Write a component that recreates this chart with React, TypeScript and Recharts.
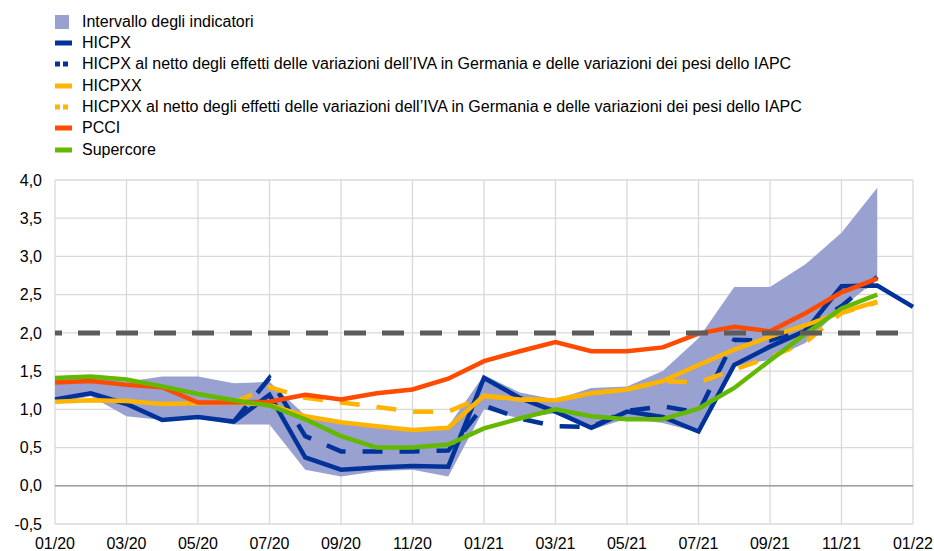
import React from 'react';
import { ComposedChart, Area, Line, XAxis, YAxis, CartesianGrid, ReferenceLine } from 'recharts';

const months = [
  '01/20', '02/20', '03/20', '04/20', '05/20', '06/20', '07/20', '08/20', '09/20', '10/20', '11/20', '12/20',
  '01/21', '02/21', '03/21', '04/21', '05/21', '06/21', '07/21', '08/21', '09/21', '10/21', '11/21', '12/21',
  '01/22',
];
const xTicks = [0, 2, 4, 6, 8, 10, 12, 14, 16, 18, 20, 22, 24];
const yTicks = [-0.5, 0, 0.5, 1, 1.5, 2, 2.5, 3, 3.5, 4];

const bandLow = [1.08, 1.17, 0.91, 0.86, 0.88, 0.80, 0.80, 0.21, 0.12, 0.19, 0.21, 0.12, 1.00, 0.88, 0.95, 0.73, 0.88, 0.82, 0.70, 1.56, 1.65, 1.87, 2.33, 2.70, null];
const bandHigh = [1.38, 1.42, 1.36, 1.43, 1.43, 1.34, 1.36, 0.92, 0.84, 0.79, 0.75, 0.78, 1.45, 1.22, 1.13, 1.28, 1.30, 1.50, 1.93, 2.60, 2.60, 2.90, 3.31, 3.90, null];
const hicpx = [1.13, 1.21, 1.07, 0.86, 0.90, 0.84, 1.19, 0.37, 0.21, 0.24, 0.26, 0.25, 1.41, 1.15, 0.97, 0.76, 0.97, 0.90, 0.71, 1.58, 1.82, 2.03, 2.61, 2.62, 2.34];
const hicpxNet = [null, null, null, null, null, 0.84, 1.41, 0.65, 0.45, 0.45, 0.45, 0.46, 1.05, 0.88, 0.78, 0.77, 0.98, 1.04, 0.96, 1.91, 1.90, 2.05, 2.35, 2.73, null];
const hicpxx = [1.10, 1.12, 1.11, 1.07, 1.08, 1.09, 1.06, 0.91, 0.83, 0.78, 0.73, 0.76, 1.18, 1.13, 1.12, 1.21, 1.26, 1.37, 1.58, 1.78, 1.95, 2.10, 2.27, 2.41, null];
const hicpxxNet = [null, null, null, null, null, 1.09, 1.29, 1.15, 1.09, 1.03, 0.97, 0.97, 1.17, 1.13, 1.12, 1.21, 1.26, 1.37, 1.35, 1.52, 1.68, 1.88, 2.26, 2.40, null];
const pcci = [1.35, 1.37, 1.32, 1.29, 1.09, 1.09, 1.10, 1.19, 1.13, 1.21, 1.26, 1.40, 1.63, 1.76, 1.88, 1.76, 1.76, 1.81, 1.99, 2.08, 2.02, 2.26, 2.53, 2.71, null];
const supercore = [1.41, 1.43, 1.39, 1.30, 1.20, 1.12, 1.05, 0.87, 0.65, 0.50, 0.50, 0.54, 0.75, 0.88, 1.00, 0.91, 0.87, 0.87, 1.01, 1.28, 1.64, 1.99, 2.32, 2.50, null];

const BAND = '#98a1d0';
const BLUE = '#003299';
const YELLOW = '#ffb400';
const RED = '#ff4b00';
const GREEN = '#65b800';
const GREY = '#5c5c5c';
const FONT = '"Liberation Sans", Arial, sans-serif';

const chartData = months.map((m, i) => ({
  i,
  band: bandLow[i] == null ? null : [bandLow[i], bandHigh[i]],
  hicpx: hicpx[i],
  hicpxNet: hicpxNet[i],
  hicpxx: hicpxx[i],
  hicpxxNet: hicpxxNet[i],
  pcci: pcci[i],
  supercore: supercore[i],
}));

const legendItems = [
  { label: 'Intervallo degli indicatori', color: BAND, kind: 'box' },
  { label: 'HICPX', color: BLUE, kind: 'line' },
  { label: 'HICPX al netto degli effetti delle variazioni dell’IVA in Germania e delle variazioni dei pesi dello IAPC', color: BLUE, kind: 'dash' },
  { label: 'HICPXX', color: YELLOW, kind: 'line' },
  { label: 'HICPXX al netto degli effetti delle variazioni dell’IVA in Germania e delle variazioni dei pesi dello IAPC', color: YELLOW, kind: 'dash' },
  { label: 'PCCI', color: RED, kind: 'line' },
  { label: 'Supercore', color: GREEN, kind: 'line' },
];

const fmtY = (v: number) => v.toFixed(1).replace('.', ',');

const ChartLegend = () => (
  <div style={{ position: 'absolute', left: 0, top: 0, fontFamily: FONT, fontSize: 16, color: '#000' }}>
    {legendItems.map((item, idx) => (
      <div
        key={item.label}
        style={{ position: 'absolute', left: 55, top: 11.5 + idx * 21.35, height: 20, display: 'flex', alignItems: 'center', whiteSpace: 'nowrap' }}
      >
        <svg width={27} height={20}>
          {item.kind === 'box' && <rect x={0} y={3} width={14} height={14} fill={item.color} />}
          {item.kind === 'line' && <line x1={0} y1={10} x2={17} y2={10} stroke={item.color} strokeWidth={5} />}
          {item.kind === 'dash' && <line x1={0} y1={10} x2={15} y2={10} stroke={item.color} strokeWidth={5} strokeDasharray="5 3" />}
        </svg>
        <span style={{ lineHeight: '20px' }}>{item.label}</span>
      </div>
    ))}
  </div>
);

export default function App() {
  return (
    <div style={{ position: 'absolute', left: 0, top: 0, width: 934, height: 551, background: '#fff' }}>
      <ChartLegend />
      <ComposedChart
        width={934}
        height={551}
        data={chartData}
        margin={{ top: 180, right: 21, bottom: 0, left: 0 }}
        style={{ fontFamily: FONT }}
      >
        <CartesianGrid stroke="#d9d9d9" strokeWidth={1.3} />
        <XAxis
          type="number"
          dataKey="i"
          domain={[0, 24]}
          ticks={xTicks}
          tickFormatter={(v: number) => months[v]}
          axisLine={false}
          tickLine={false}
          tickMargin={8}
          height={27}
          tick={{ fill: '#000', fontSize: 16 }}
          interval={0}
        />
        <YAxis
          type="number"
          domain={[-0.5, 4]}
          ticks={yTicks}
          tickFormatter={fmtY}
          axisLine={false}
          tickLine={false}
          tickMargin={7}
          width={55}
          tick={{ fill: '#000', fontSize: 16 }}
          interval={0}
        />
        <ReferenceLine y={0} stroke="#a0a0a0" strokeWidth={1.5} />
        <Area dataKey="band" fill={BAND} fillOpacity={1} stroke="none" isAnimationActive={false} activeDot={false} />
        <Line dataKey="hicpx" stroke={BLUE} strokeWidth={4.5} dot={false} activeDot={false} isAnimationActive={false} />
        <Line dataKey="hicpxNet" stroke={BLUE} strokeWidth={4.5} strokeDasharray="20 17" dot={false} activeDot={false} isAnimationActive={false} />
        <Line dataKey="hicpxx" stroke={YELLOW} strokeWidth={4.5} dot={false} activeDot={false} isAnimationActive={false} />
        <Line dataKey="hicpxxNet" stroke={YELLOW} strokeWidth={4.5} strokeDasharray="20 17" dot={false} activeDot={false} isAnimationActive={false} />
        <Line dataKey="pcci" stroke={RED} strokeWidth={4.5} dot={false} activeDot={false} isAnimationActive={false} />
        <Line dataKey="supercore" stroke={GREEN} strokeWidth={4.5} dot={false} activeDot={false} isAnimationActive={false} />
        <ReferenceLine y={2} stroke={GREY} strokeWidth={5} strokeDasharray="22 16" strokeDashoffset={15} />
      </ComposedChart>
    </div>
  );
}
